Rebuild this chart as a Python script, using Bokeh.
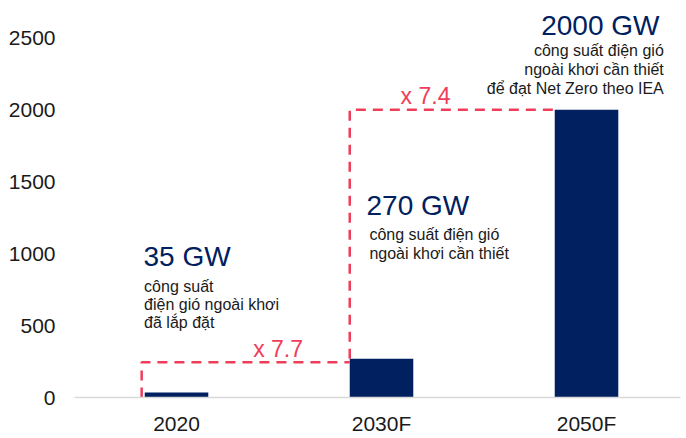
from bokeh.plotting import figure
from bokeh.models import Range1d, FixedTicker, ColumnDataSource
from bokeh.core.properties import value
from bokeh.embed import file_html
from bokeh.resources import INLINE

# ---- data ----
categories = ["2020", "2030F", "2050F"]
capacity_gw = [35, 270, 2000]
value_labels = ["35 GW", "270 GW", "2000 GW"]
desc_2020 = ["công suất", "điện gió ngoài khơi", "đã lắp đặt"]
desc_2030 = ["công suất điện gió", "ngoài khơi cần thiết"]
desc_2050 = ["công suất điện gió", "ngoài khơi cần thiết", "để đạt Net Zero theo IEA"]
multipliers = ["x 7.7", "x 7.4"]
y_ticks = [0, 500, 1000, 1500, 2000, 2500]

NAVY = "#002060"
RED = "#ef3d5a"
FONT = "Liberation Sans"

xs = list(range(len(categories)))
bar_w = 0.31

p = figure(width=684, height=437, output_backend="svg", toolbar_location=None,
           x_range=Range1d(-0.4976, 2.4585), y_range=Range1d(0, 2690),
           min_border_left=74, min_border_right=4, min_border_top=10, min_border_bottom=37)
p.outline_line_color = None
p.background_fill_color = "white"
p.border_fill_color = "white"
p.xgrid.visible = False
p.ygrid.visible = False

src = ColumnDataSource(dict(x=xs, top=capacity_gw))
p.vbar(x="x", top="top", width=bar_w, bottom=0, source=src, fill_color=NAVY, line_color=None)

# dashed connectors
left0 = xs[0] - bar_w / 2 - 0.015
left1 = xs[1] - bar_w / 2
left2 = xs[2] - bar_w / 2
p.line([left0, left0, left1], [0, capacity_gw[1] - 25, capacity_gw[1] - 25],
       line_color=RED, line_width=2.5, line_dash="10 7")
p.line([left1, left1, left2], [capacity_gw[1], capacity_gw[2], capacity_gw[2]],
       line_color=RED, line_width=2.5, line_dash="10 7")

# axes
p.yaxis.ticker = FixedTicker(ticks=y_ticks)
p.yaxis.axis_line_color = None
p.yaxis.major_tick_line_color = None
p.yaxis.minor_tick_line_color = None
p.yaxis.major_label_standoff = 13
p.yaxis.major_label_text_font = FONT
p.yaxis.major_label_text_font_size = "21px"
p.yaxis.major_label_text_color = "#1a1a1a"

p.xaxis.ticker = FixedTicker(ticks=xs)
p.xaxis.major_label_overrides = {i: c for i, c in enumerate(categories)}
p.xaxis.axis_line_color = "#d9d9d9"
p.xaxis.axis_line_width = 1.5
p.xaxis.major_tick_line_color = None
p.xaxis.minor_tick_line_color = None
p.xaxis.major_label_standoff = 8
p.xaxis.major_label_text_font = FONT
p.xaxis.major_label_text_font_size = "21px"
p.xaxis.major_label_text_color = "#1a1a1a"

def txt(x, y, t, size, color, align="left"):
    p.text(x=[x], y=[y + 50], text=[t], text_font=value(FONT), text_font_size=size,
           text_color=color, text_align=align, text_baseline="alphabetic")

# value labels
txt(-0.161, 930, value_labels[0], "28px", NAVY)
txt(0.927, 1285, value_labels[1], "28px", NAVY)
txt(2.356, 2537, value_labels[2], "28px", NAVY, "right")

# descriptions
for t, y in zip(desc_2020, [721, 597, 468]):
    txt(-0.158, y, t, "16px", "#1a1a1a")
for t, y in zip(desc_2030, [1081, 950]):
    txt(0.941, y, t, "16px", "#1a1a1a")
for t, y in zip(desc_2050, [2362, 2231, 2100]):
    txt(2.377, y, t, "16px", "#1a1a1a", "right")

# multipliers
txt(0.374, 285, multipliers[0], "23px", RED)
txt(1.093, 2043, multipliers[1], "23px", RED)

open("out.html", "w").write(file_html(p, INLINE))
